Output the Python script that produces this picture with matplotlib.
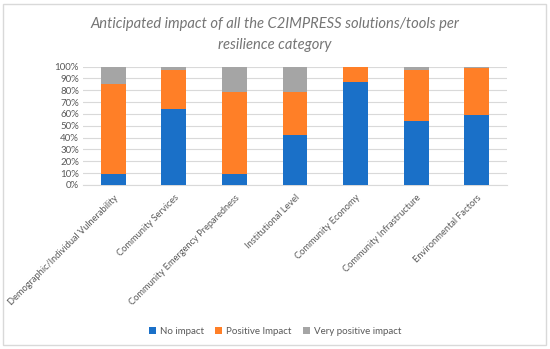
import numpy as np
import matplotlib.pyplot as plt
from matplotlib.patches import Rectangle

categories = [
    "Demographic/Individual Vulnerability",
    "Community Services",
    "Community Emergency Preparedness",
    "Institutional Level",
    "Community Economy",
    "Community Infrastructure",
    "Environmental Factors",
]
no_impact = [9, 64, 9, 42, 87, 54, 59]
positive = [76, 33, 70, 37, 13, 43, 40]
very_positive = [15, 3, 21, 21, 0, 3, 1]

blue = "#1A70C8"
orange = "#FF7F27"
gray = "#A5A5A5"
txt = "#595959"

plt.rcParams["font.family"] = ["Lato", "DejaVu Sans"]

fig = plt.figure(figsize=(5.5, 3.49), dpi=100)
fig.patches.append(Rectangle((0.006, 0.012), 0.986, 0.977, transform=fig.transFigure,
                             fill=False, edgecolor="#D9D9D9", linewidth=1))
ax = fig.add_axes([0.151, 0.470, 0.771, 0.339])

x = np.arange(len(categories))
w = 0.41
no = np.array(no_impact)
pos = np.array(positive)
vp = np.array(very_positive)
ax.bar(x, no, w, color=blue, label="No impact", zorder=3)
ax.bar(x, pos, w, bottom=no, color=orange, label="Positive Impact", zorder=3)
ax.bar(x, vp, w, bottom=no + pos, color=gray, label="Very positive impact", zorder=3)

ax.set_ylim(0, 100)
ax.set_xlim(-0.5, len(categories) - 0.5)
ax.set_yticks(range(0, 101, 10))
ax.set_yticklabels([f"{v}%" for v in range(0, 101, 10)], fontsize=7, color=txt)
ax.yaxis.grid(True, color="#D9D9D9", linewidth=0.8, zorder=0)
ax.set_xticks(x)
ax.set_xticklabels(categories, rotation=45, ha="right", rotation_mode="anchor",
                   fontsize=6.7, color=txt)
ax.tick_params(axis="x", length=0, pad=6)
ax.tick_params(axis="y", length=0, pad=3)
for s in ["top", "right", "left"]:
    ax.spines[s].set_visible(False)
ax.spines["bottom"].set_color("#D9D9D9")

fig.text(0.5, 0.902, "Anticipated impact of all the C2IMPRESS solutions/tools per\nresilience category",
         ha="center", va="center", fontsize=10.6, style="italic", color="#757575", linespacing=1.6)

fig.legend(loc="center", bbox_to_anchor=(0.5, 0.05), ncol=3, frameon=False,
           fontsize=7, labelcolor=txt, handlelength=0.7, handleheight=0.7,
           columnspacing=1.2, handletextpad=0.4)

fig.savefig("out.png", dpi=100)
